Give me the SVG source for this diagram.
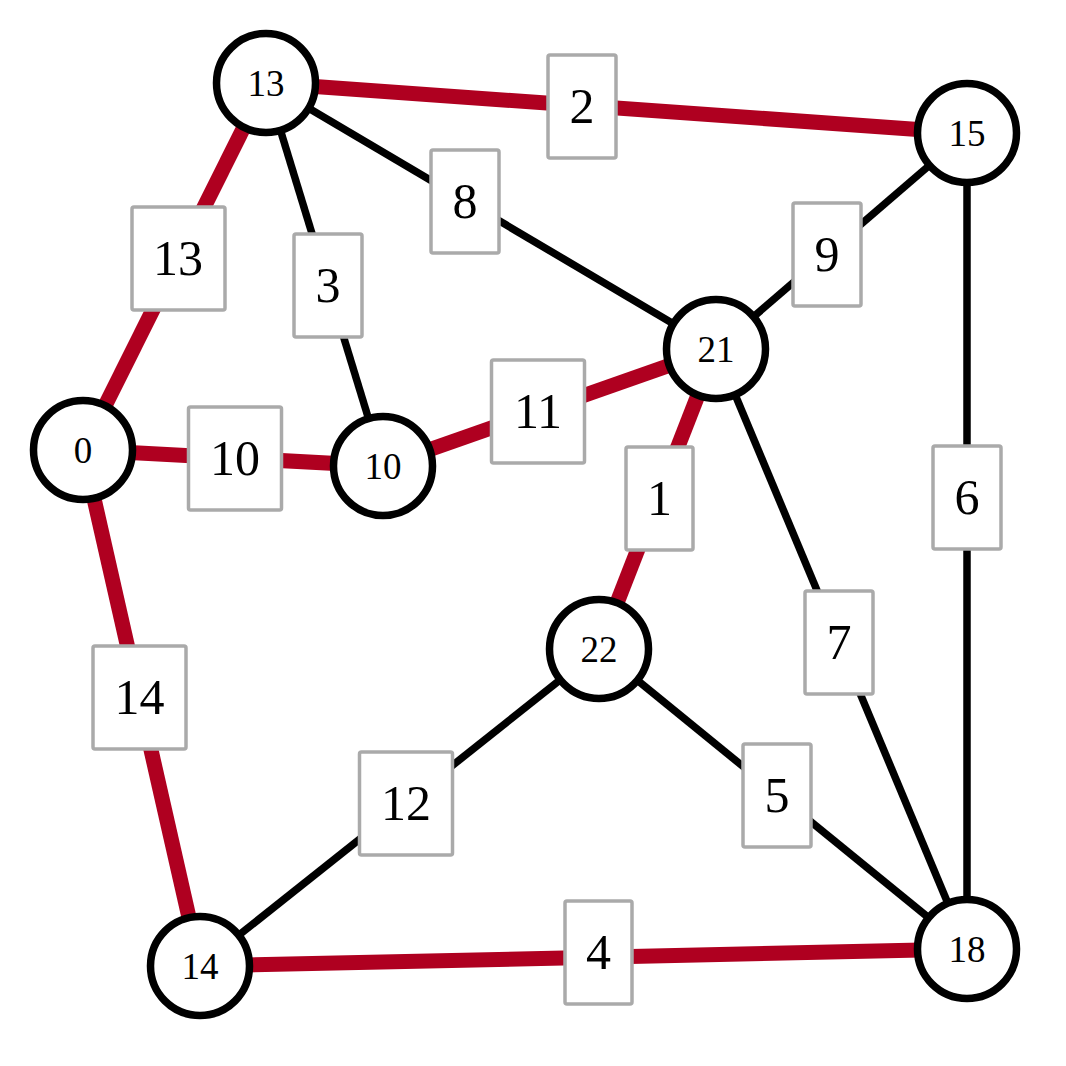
<svg xmlns="http://www.w3.org/2000/svg" width="1066" height="1066" viewBox="0 0 1066 1066">
<style>
.e{stroke:#000;stroke-width:7.5;fill:none}
.r{stroke:#af0020;stroke-width:15;fill:none}
.n circle{fill:#fff;stroke:#000;stroke-width:7.5}
.n text{font-family:"Liberation Serif","Times New Roman",serif;font-size:37px;text-anchor:middle;fill:#000}
.l rect{fill:#fff;stroke:#aaa;stroke-width:3.5}
.l text{font-family:"Liberation Serif","Times New Roman",serif;font-size:50px;text-anchor:middle;fill:#000}
</style>
<rect width="1066" height="1066" fill="#fff"/>
<g id="connectors">
<line class="r" x1="266" y1="83" x2="967" y2="133"/>
<line class="r" x1="266" y1="83" x2="83" y2="450"/>
<line class="r" x1="83" y1="450" x2="383" y2="466"/>
<line class="r" x1="383" y1="466" x2="716" y2="349"/>
<line class="r" x1="716" y1="349" x2="599" y2="649"/>
<line class="r" x1="83" y1="450" x2="200" y2="966"/>
<line class="r" x1="200" y1="966" x2="967" y2="949"/>
<line class="e" x1="266" y1="83" x2="716" y2="349"/>
<line class="e" x1="266" y1="83" x2="383" y2="466"/>
<line class="e" x1="967" y1="133" x2="716" y2="349"/>
<line class="e" x1="967" y1="133" x2="967" y2="949"/>
<line class="e" x1="716" y1="349" x2="967" y2="949"/>
<line class="e" x1="599" y1="649" x2="200" y2="966"/>
<line class="e" x1="599" y1="649" x2="967" y2="949"/>
</g>
<g id="edge-labels" class="l">
<g id="label-2"><rect x="548" y="55" width="68" height="103" rx="2"/><text x="582" y="123">2</text></g>
<g id="label-13"><rect x="132" y="207" width="93" height="103" rx="2"/><text x="178" y="275">13</text></g>
<g id="label-8"><rect x="431" y="150" width="68" height="103" rx="2"/><text x="465" y="218">8</text></g>
<g id="label-3"><rect x="294" y="234" width="68" height="103" rx="2"/><text x="328" y="302">3</text></g>
<g id="label-9"><rect x="793" y="203" width="68" height="103" rx="2"/><text x="827" y="271">9</text></g>
<g id="label-10"><rect x="188.5" y="407" width="93" height="103" rx="2"/><text x="235" y="475">10</text></g>
<g id="label-11"><rect x="491.5" y="360" width="93" height="103" rx="2"/><text x="538" y="428">11</text></g>
<g id="label-1"><rect x="626" y="447" width="67" height="103" rx="2"/><text x="659.5" y="515">1</text></g>
<g id="label-6"><rect x="933" y="446" width="68" height="103" rx="2"/><text x="967" y="514">6</text></g>
<g id="label-7"><rect x="805" y="591" width="68" height="103" rx="2"/><text x="839" y="659">7</text></g>
<g id="label-14"><rect x="93" y="646" width="93" height="103" rx="2"/><text x="139.5" y="714">14</text></g>
<g id="label-12"><rect x="359.5" y="752" width="93" height="103" rx="2"/><text x="406" y="820">12</text></g>
<g id="label-5"><rect x="743" y="744" width="68" height="103" rx="2"/><text x="777" y="812">5</text></g>
<g id="label-4"><rect x="565" y="901" width="67" height="103" rx="2"/><text x="598.5" y="969">4</text></g>
</g>
<g class="n">
<g id="node-13"><circle cx="266" cy="83" r="49.5"/><text x="266" y="95.5">13</text></g>
<g id="node-15"><circle cx="967" cy="133" r="49.5"/><text x="967" y="145.5">15</text></g>
<g id="node-0"><circle cx="83" cy="450" r="49.5"/><text x="83" y="462.5">0</text></g>
<g id="node-10"><circle cx="383" cy="466" r="49.5"/><text x="383" y="478.5">10</text></g>
<g id="node-21"><circle cx="716" cy="349" r="49.5"/><text x="716" y="361.5">21</text></g>
<g id="node-22"><circle cx="599" cy="649" r="49.5"/><text x="599" y="661.5">22</text></g>
<g id="node-14"><circle cx="200" cy="966" r="49.5"/><text x="200" y="978.5">14</text></g>
<g id="node-18"><circle cx="967" cy="949" r="49.5"/><text x="967" y="961.5">18</text></g>
</g>
</svg>
